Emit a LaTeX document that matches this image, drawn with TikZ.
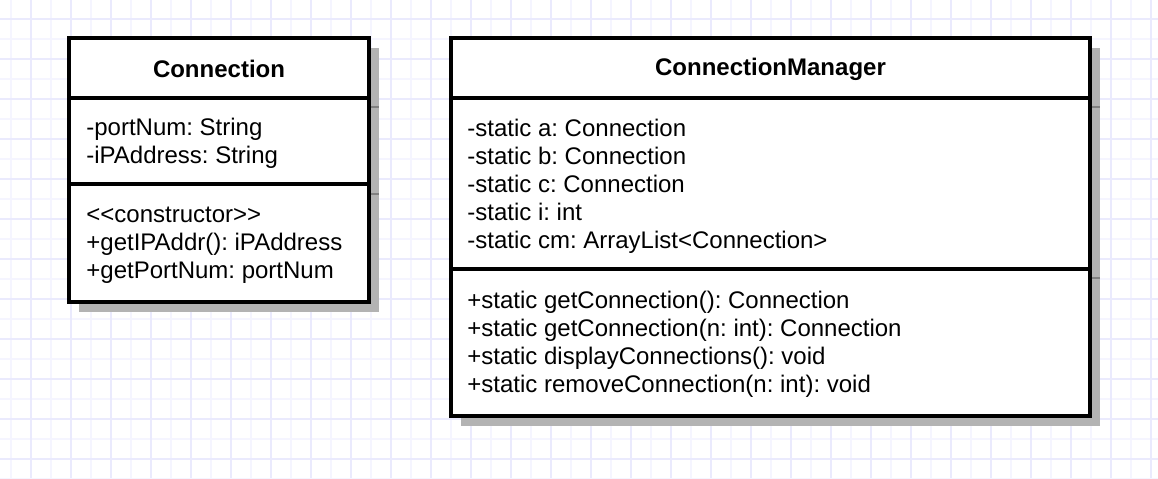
\documentclass[tikz,border=0pt]{standalone}
\usepackage{fontspec}
\setmainfont{Liberation Sans}[Ligatures=TeXOff]
\frenchspacing
\definecolor{gridlight}{RGB}{245,245,255}
\definecolor{griddark}{RGB}{234,234,253}
\definecolor{shadowgray}{RGB}{179,179,179}
\definecolor{shadowline}{RGB}{128,128,128}
\tikzset{
  classbox/.style={draw=black,fill=white,line width=1.6pt},
  classsep/.style={black,line width=1.6pt},
  classtitle/.style={inner sep=0pt,font=\fontsize{12}{14}\selectfont\bfseries},
  classtext/.style={inner sep=0pt,anchor=west,align=left,font=\fontsize{12}{14}\selectfont\frenchspacing}
}
\begin{document}
\begin{tikzpicture}[x=0.5pt,y=-0.5pt]
			\useasboundingbox (0,0) rectangle (1158,478);
			\fill[white] (0,0) rectangle (1158,478);
			% grid
			\foreach \x in {11,51,...,1151}
			\draw[gridlight,line width=0.6pt] (\x,0) -- (\x,478);
			\foreach \y in {39,79,...,479}
			\draw[gridlight,line width=0.6pt] (0,\y) -- (1158,\y);
			\foreach \x in {31,71,...,1151}
			\draw[griddark,line width=0.6pt] (\x,0) -- (\x,478);
			\foreach \y in {19,59,...,479}
			\draw[griddark,line width=0.6pt] (0,\y) -- (1158,\y);
			% shadows
			\fill[shadowgray] (79,48) rectangle (379,312);
			\fill[shadowgray] (461,48) rectangle (1100,426);
			\foreach \y in {107,194}
			\draw[shadowline,line width=0.7pt] (79,\y) -- (379,\y);
			\foreach \y in {107,278}
			\draw[shadowline,line width=0.7pt] (461,\y) -- (1100,\y);
			% Connection
			\draw[classbox] (69,38) rectangle (369,302);
			\draw[classsep] (69,98) -- (369,98);
			\draw[classsep] (69,184) -- (369,184);
			\node[classtitle] (conTitle) at (219,69) {Connection};
			\node[classtext] (conAttr) at (86,143) {-portNum: String\\-iPAddress: String};
			\node[classtext] (conOps) at (86,245) {<<constructor>>\\+getIPAddr(): iPAddress\\+getPortNum: portNum};
			% ConnectionManager
			\draw[classbox] (451,38) rectangle (1090,416);
			\draw[classsep] (451,98) -- (1090,98);
			\draw[classsep] (451,269) -- (1090,269);
			\node[classtitle] (cmTitle) at (770.5,69) {ConnectionManager};
			\node[classtext] (cmAttr) at (467,186) {-static a: Connection\\-static b: Connection\\-static c: Connection\\-static i: int\\-static cm: ArrayList<Connection>};
			\node[classtext] (cmOps) at (467,344) {+static getConnection(): Connection\\+static getConnection(n: int): Connection\\+static displayConnections(): void\\+static removeConnection(n: int): void};
		\end{tikzpicture}
\end{document}
